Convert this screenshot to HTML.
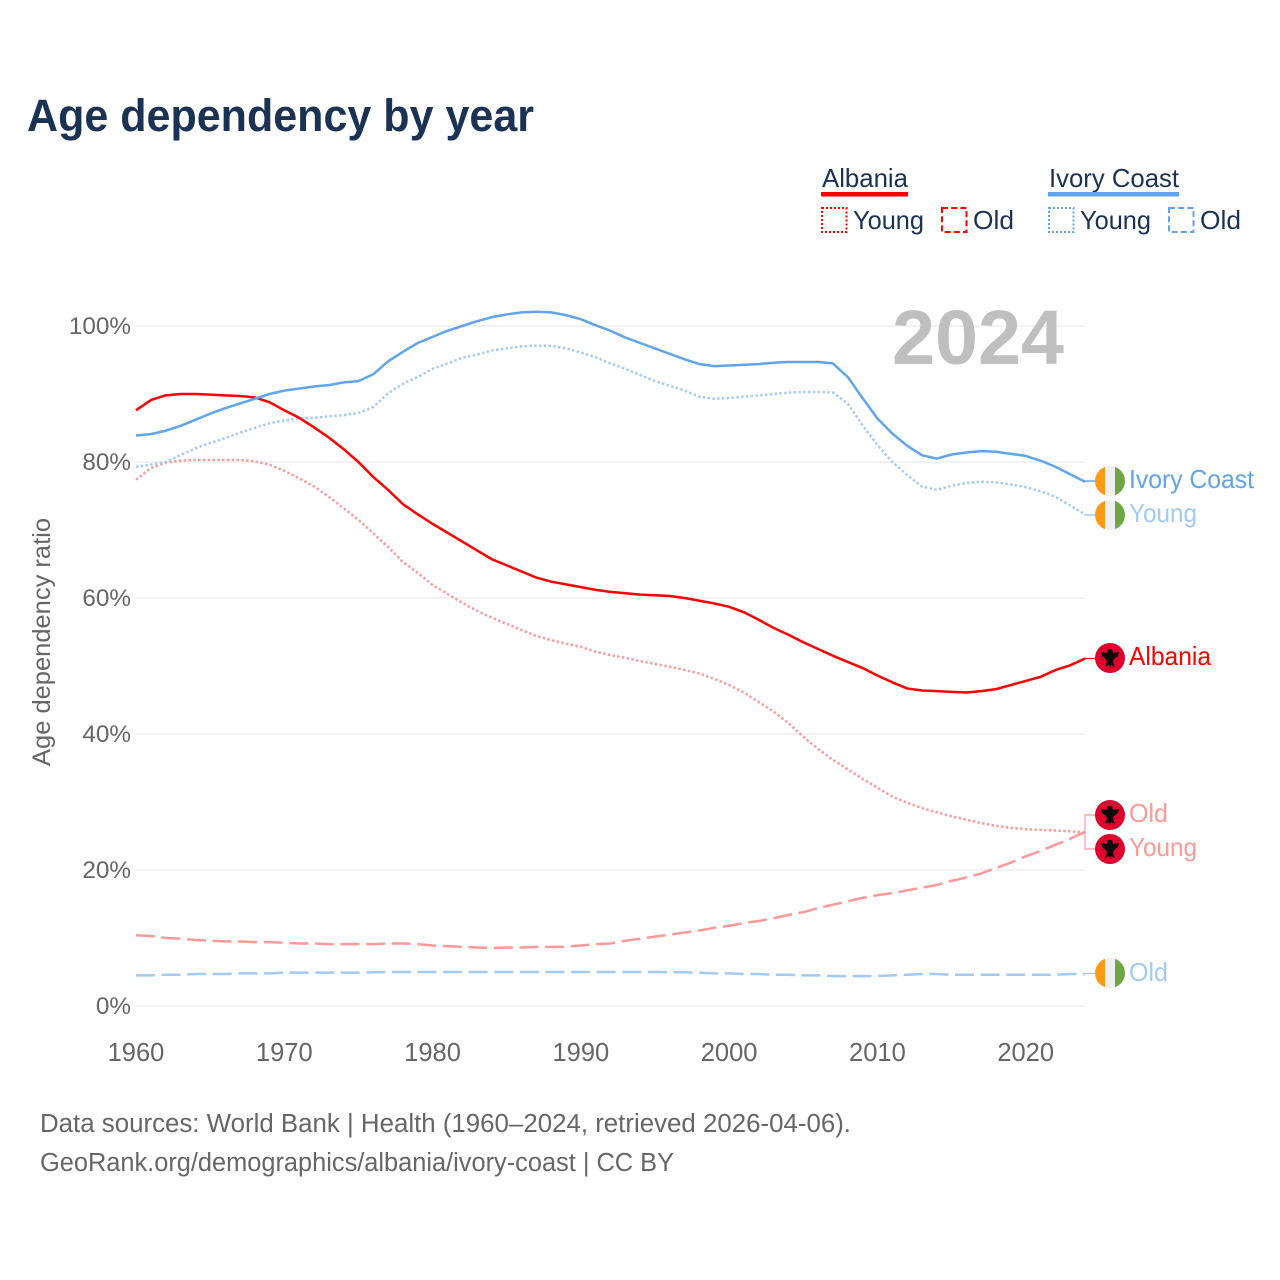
<!DOCTYPE html>
<html lang="en">
<head>
<meta charset="utf-8">
<title>Age dependency by year</title>
<style>
html,body{margin:0;padding:0;background:#fff;width:1280px;height:1280px;overflow:hidden}
svg{display:block}
text{font-family:"Liberation Sans",sans-serif}
</style>
</head>
<body>
<svg id="chart" xmlns="http://www.w3.org/2000/svg" width="1280" height="1280" viewBox="0 0 1280 1280">
  <rect x="0" y="0" width="1280" height="1280" fill="#fff"/>
  <text x="27" y="131" font-size="45" font-weight="700" fill="#1a3253" textLength="507" lengthAdjust="spacingAndGlyphs">Age dependency by year</text>

  <g fill="#1a3253" font-size="26">
    <text x="822" y="187" textLength="86" lengthAdjust="spacingAndGlyphs">Albania</text>
    <rect x="821" y="192" width="87" height="4.5" fill="#ff0000"/>
    <rect x="822" y="208" width="24.5" height="24" fill="none" stroke="#ff0000" stroke-width="2" stroke-dasharray="2 2"/>
    <text x="853" y="229" textLength="71" lengthAdjust="spacingAndGlyphs">Young</text>
    <rect x="942" y="208" width="24.5" height="24" fill="none" stroke="#ff0000" stroke-width="2" stroke-dasharray="6 3.2"/>
    <text x="973" y="229" textLength="41" lengthAdjust="spacingAndGlyphs">Old</text>

    <text x="1049" y="187" textLength="130" lengthAdjust="spacingAndGlyphs">Ivory Coast</text>
    <rect x="1048" y="192" width="131" height="4.5" fill="#60a5ec"/>
    <rect x="1049" y="208" width="24.5" height="24" fill="none" stroke="#60a5ec" stroke-width="2" stroke-dasharray="2 2"/>
    <text x="1080" y="229" textLength="71" lengthAdjust="spacingAndGlyphs">Young</text>
    <rect x="1169" y="208" width="24.5" height="24" fill="none" stroke="#60a5ec" stroke-width="2" stroke-dasharray="6 3.2"/>
    <text x="1200" y="229" textLength="41" lengthAdjust="spacingAndGlyphs">Old</text>
  </g>

  <g id="grid"></g>
  <g id="yticks"></g>
  <g id="xticks"></g>

  <text transform="translate(50,642) rotate(-90)" text-anchor="middle" font-size="25" fill="#666" textLength="248" lengthAdjust="spacingAndGlyphs">Age dependency ratio</text>
  <text x="892" y="364" font-size="77" font-weight="700" fill="#bfbfbf" textLength="172" lengthAdjust="spacingAndGlyphs">2024</text>

  <g id="series"></g>

  <g font-size="26">
    <path d="M1084 482L1087 481H1095" fill="none" stroke="#60a5ec" stroke-width="1.5"/>
    <path d="M1084 514.5L1087 515H1095" fill="none" stroke="#a3caf3" stroke-width="1.5"/>
    <path d="M1084 658.5H1095" fill="none" stroke="#ff0000" stroke-width="1.2"/>
    <path d="M1095 815H1085V849H1095" fill="none" stroke="#ff9999" stroke-width="1.2"/>
    <path d="M1084 973.5H1095" fill="none" stroke="#a3caf3" stroke-width="1.2"/>

    <g transform="translate(1110,481)">
      <clipPath id="c1"><circle r="15"/></clipPath>
      <g clip-path="url(#c1)"><rect x="-15" y="-15" width="10" height="30" fill="#ff9a17"/><rect x="-5" y="-15" width="10" height="30" fill="#eeeeee"/><rect x="5" y="-15" width="10" height="30" fill="#6fa644"/></g>
    </g>
    <g transform="translate(1110,515)">
      <g clip-path="url(#c1)"><rect x="-15" y="-15" width="10" height="30" fill="#ff9a17"/><rect x="-5" y="-15" width="10" height="30" fill="#eeeeee"/><rect x="5" y="-15" width="10" height="30" fill="#6fa644"/></g>
    </g>
    <g transform="translate(1110,973)">
      <g clip-path="url(#c1)"><rect x="-15" y="-15" width="10" height="30" fill="#ff9a17"/><rect x="-5" y="-15" width="10" height="30" fill="#eeeeee"/><rect x="5" y="-15" width="10" height="30" fill="#6fa644"/></g>
    </g>
    <g transform="translate(1110,658)">
      <circle r="15" fill="#e0002d"/>
      <polygon points="-2,-9 2,-9 3,-5 9,-6 8,-2 4,1 3,4 5,9 1,7 0,10 -1,7 -5,9 -3,4 -4,1 -8,-2 -9,-6 -3,-5" fill="#0b0b0b"/>
    </g>
    <g transform="translate(1110,815)">
      <circle r="15" fill="#e0002d"/>
      <polygon points="-2,-9 2,-9 3,-5 9,-6 8,-2 4,1 3,4 5,9 1,7 0,10 -1,7 -5,9 -3,4 -4,1 -8,-2 -9,-6 -3,-5" fill="#0b0b0b"/>
    </g>
    <g transform="translate(1110,849)">
      <circle r="15" fill="#e0002d"/>
      <polygon points="-2,-9 2,-9 3,-5 9,-6 8,-2 4,1 3,4 5,9 1,7 0,10 -1,7 -5,9 -3,4 -4,1 -8,-2 -9,-6 -3,-5" fill="#0b0b0b"/>
    </g>

    <text x="1129" y="488" fill="#60a5ec" textLength="125" lengthAdjust="spacingAndGlyphs">Ivory Coast</text>
    <text x="1129" y="522" fill="#a3caf3" textLength="68" lengthAdjust="spacingAndGlyphs">Young</text>
    <text x="1129" y="665" fill="#ff0000" textLength="82" lengthAdjust="spacingAndGlyphs">Albania</text>
    <text x="1129" y="822" fill="#ff9999" textLength="39" lengthAdjust="spacingAndGlyphs">Old</text>
    <text x="1129" y="856" fill="#ff9999" textLength="68" lengthAdjust="spacingAndGlyphs">Young</text>
    <text x="1129" y="981" fill="#a3caf3" textLength="39" lengthAdjust="spacingAndGlyphs">Old</text>
  </g>

  <g font-size="25.5" fill="#666">
    <text x="40" y="1132" textLength="811" lengthAdjust="spacingAndGlyphs">Data sources: World Bank | Health (1960–2024, retrieved 2026-04-06).</text>
    <text x="40" y="1171" textLength="634" lengthAdjust="spacingAndGlyphs">GeoRank.org/demographics/albania/ivory-coast | CC BY</text>
  </g>
</svg>
<script>
const startYear = 1960;
const endYear = 2024;
const yTickValues = [0, 20, 40, 60, 80, 100];
const yTickLabels = ["0%", "20%", "40%", "60%", "80%", "100%"];
const xTickValues = [1960, 1970, 1980, 1990, 2000, 2010, 2020];
const xTickLabels = ["1960", "1970", "1980", "1990", "2000", "2010", "2020"];

const albaniaTotal = [87.6,89.1,89.8,90.0,90.0,89.9,89.8,89.7,89.5,88.8,
  87.6,86.5,85.1,83.6,81.9,80.0,77.8,75.9,73.8,72.3,
  70.9,69.6,68.3,67.0,65.7,64.8,63.9,63.0,62.4,62.0,
  61.6,61.2,60.9,60.7,60.5,60.4,60.3,60.0,59.6,59.2,
  58.7,57.9,56.8,55.6,54.6,53.5,52.5,51.5,50.6,49.7,
  48.6,47.6,46.7,46.4,46.3,46.2,46.1,46.3,46.6,47.2,
  47.8,48.4,49.4,50.1,51.1];
const albaniaYoung = [77.4,79.1,79.9,80.2,80.3,80.3,80.3,80.3,80.1,79.6,
  78.7,77.6,76.4,74.9,73.2,71.5,69.5,67.5,65.3,63.7,
  61.9,60.6,59.3,58.1,57.1,56.2,55.3,54.4,53.8,53.3,
  52.8,52.1,51.6,51.2,50.7,50.3,49.9,49.4,48.9,48.1,
  47.2,46.1,44.7,43.3,41.6,39.6,37.8,36.2,34.8,33.4,
  32.1,30.8,29.9,29.1,28.5,27.9,27.4,26.9,26.5,26.2,
  26.0,25.9,25.8,25.7,25.5];
const albaniaOld = [10.4,10.3,10.0,9.9,9.7,9.6,9.5,9.5,9.4,9.4,
  9.3,9.2,9.2,9.1,9.1,9.1,9.1,9.2,9.2,9.1,
  8.9,8.8,8.7,8.6,8.5,8.6,8.6,8.7,8.7,8.7,
  8.9,9.1,9.2,9.6,9.9,10.2,10.5,10.8,11.1,11.5,
  11.8,12.2,12.5,12.9,13.4,13.8,14.4,14.9,15.4,15.9,
  16.3,16.6,17.0,17.4,17.8,18.4,18.9,19.5,20.3,21.1,
  22.0,22.8,23.7,24.6,25.6];
const ivoryTotal = [83.9,84.1,84.6,85.3,86.2,87.1,87.9,88.6,89.3,90.0,
  90.5,90.8,91.1,91.3,91.7,91.9,92.9,94.8,96.2,97.5,
  98.4,99.3,100.0,100.7,101.3,101.7,102.0,102.1,102.0,101.6,
  101.0,100.1,99.3,98.3,97.5,96.7,95.9,95.1,94.4,94.1,
  94.2,94.3,94.4,94.6,94.7,94.7,94.7,94.5,92.5,89.4,
  86.4,84.2,82.4,81.0,80.5,81.1,81.4,81.6,81.5,81.2,
  80.9,80.2,79.3,78.2,77.1];
const ivoryYoung = [79.3,79.6,80.0,81.0,82.0,82.8,83.5,84.3,85.0,85.7,
  86.1,86.4,86.5,86.7,86.9,87.2,88.1,90.1,91.5,92.5,
  93.7,94.5,95.3,95.8,96.4,96.7,97.0,97.1,97.1,96.7,
  96.1,95.4,94.5,93.7,92.8,91.9,91.2,90.5,89.6,89.3,
  89.4,89.6,89.8,90.0,90.2,90.3,90.3,90.2,88.6,85.4,
  82.5,80.0,78.1,76.4,75.9,76.5,76.9,77.1,77.0,76.7,
  76.3,75.7,74.9,73.6,72.3];
const ivoryOld = [4.5,4.5,4.6,4.6,4.7,4.7,4.7,4.8,4.8,4.8,
  4.9,4.9,4.9,4.9,4.9,4.9,4.96,5.0,5.0,5.0,
  5.0,5.0,5.0,5.0,5.0,5.0,5.0,5.0,5.0,5.0,
  5.0,5.0,5.0,5.0,5.0,5.0,4.96,4.96,4.9,4.8,
  4.8,4.7,4.7,4.6,4.6,4.5,4.5,4.4,4.4,4.4,
  4.4,4.5,4.6,4.7,4.7,4.6,4.6,4.6,4.6,4.6,
  4.6,4.6,4.6,4.7,4.7];

const SVGNS = "http://www.w3.org/2000/svg";
const xLeft = 136, xRight = 1085, yZero = 1006, yHundred = 326;
function xScale(year) { return xLeft + (year - startYear) * (xRight - xLeft) / (endYear - startYear); }
function yScale(v) { return yZero + v * (yHundred - yZero) / 100; }
function linePath(values) {
  return values.map(function (v, i) {
    return (i ? "L" : "M") + xScale(startYear + i).toFixed(2) + " " + yScale(v).toFixed(2);
  }).join("");
}

const gridGroup = document.getElementById("grid");
const yTickGroup = document.getElementById("yticks");
yTickValues.forEach(function (v, i) {
  const ln = document.createElementNS(SVGNS, "line");
  
  
  ln.setAttribute("x1", xLeft);
  ln.setAttribute("x2", xRight);
  ln.setAttribute("y1", yScale(v));
  ln.setAttribute("y2", yScale(v));
  ln.setAttribute("stroke", "#eeeeee");
  ln.setAttribute("stroke-width", "1.6");
  gridGroup.appendChild(ln);

  const t = document.createElementNS(SVGNS, "text");
  
  
  t.setAttribute("x", 131);
  t.setAttribute("y", yScale(v) + 8);
  t.setAttribute("text-anchor", "end");
  t.setAttribute("font-size", "24.3");
  t.setAttribute("fill", "#666");
  t.textContent = yTickLabels[i];
  yTickGroup.appendChild(t);
});

const xTickGroup = document.getElementById("xticks");
xTickValues.forEach(function (yr, i) {
  const t = document.createElementNS(SVGNS, "text");
  
  
  t.setAttribute("x", xScale(yr));
  t.setAttribute("y", 1061);
  t.setAttribute("text-anchor", "middle");
  t.setAttribute("font-size", "25.5");
  t.setAttribute("fill", "#666");
  t.textContent = xTickLabels[i];
  xTickGroup.appendChild(t);
});

const seriesGroup = document.getElementById("series");
function drawSeries(values, name, color, dash) {
  const p = document.createElementNS(SVGNS, "path");
  
  
  p.setAttribute("d", linePath(values));
  p.setAttribute("fill", "none");
  p.setAttribute("stroke", color);
  p.setAttribute("stroke-width", "2.5");
  p.setAttribute("stroke-linejoin", "round");
  if (dash) p.setAttribute("stroke-dasharray", dash);
  seriesGroup.appendChild(p);
}
const dotted = "2.4 2.4";
const dashed = "19 6.6";
drawSeries(albaniaOld, "line-albania-old", "#ff9999", dashed);
drawSeries(ivoryOld, "line-ivory-coast-old", "#a3caf3", dashed);
drawSeries(albaniaYoung, "line-albania-young", "#ff9999", dotted);
drawSeries(ivoryYoung, "line-ivory-coast-young", "#a3caf3", dotted);
drawSeries(albaniaTotal, "line-albania-total", "#ff0000", null);
drawSeries(ivoryTotal, "line-ivory-coast-total", "#60a5ec", null);
</script>
</body>
</html>
